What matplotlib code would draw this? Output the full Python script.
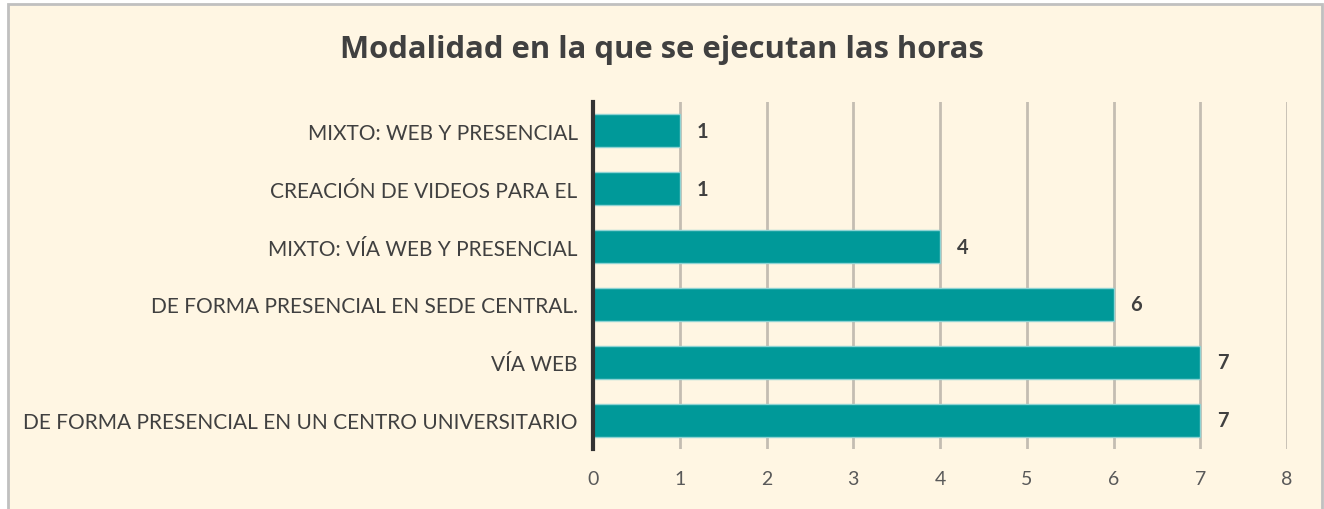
import matplotlib
matplotlib.use('Agg')
import matplotlib.pyplot as plt
from matplotlib.patches import Rectangle

categories = ['DE FORMA PRESENCIAL EN UN CENTRO UNIVERSITARIO', 'VÍA WEB',
              'DE FORMA PRESENCIAL EN SEDE CENTRAL.', 'MIXTO: VÍA WEB Y PRESENCIAL',
              'CREACIÓN DE VIDEOS PARA EL', 'MIXTO: WEB Y PRESENCIAL']
values = [7, 7, 6, 4, 1, 1]
xticks = [0, 1, 2, 3, 4, 5, 6, 7, 8]

bg = '#FFF6E3'
plt.rcParams['font.family'] = ['Lato', 'DejaVu Sans']

fig = plt.figure(figsize=(13.24, 5.10), dpi=100, facecolor='white')
# chart area with its grey frame (white margin outside it), drawn under the axes
fig.patches.append(Rectangle((8/1324, -0.01), 1314/1324, 1 - 5/510 + 0.01, transform=fig.transFigure,
                             facecolor=bg, edgecolor='#C0C0C0', linewidth=2, zorder=-5))

ax = fig.add_axes([593/1324, 1 - 450/510, 694/1324, 347/510])
ax.set_facecolor(bg)

pos = list(range(len(categories)))
ax.barh(pos, values, height=0.57, color='#009999', edgecolor='#8fd3d3', linewidth=1, zorder=3)
for p, v in zip(pos, values):
    ax.text(v + 0.19, p, str(v), va='center', ha='left', fontsize=14.5, fontweight='bold', color='#404040')

ax.set_xlim(0, 8)
ax.set_ylim(-0.5, 5.5)
ax.set_xticks(xticks)
ax.set_yticks(pos)
ax.set_yticklabels(categories, fontsize=15, color='#404040')
ax.tick_params(axis='x', labelsize=14, colors='#595959', length=0, pad=15)
ax.tick_params(axis='y', length=0, pad=11)
ax.grid(axis='x', color='#C4BDB2', linewidth=2, zorder=0)
for s in ['top', 'right', 'bottom']:
    ax.spines[s].set_visible(False)
ax.spines['left'].set_color('#333333')
ax.spines['left'].set_linewidth(3)
ax.spines['left'].set_zorder(4)

fig.text(0.5, 1 - 50/510, 'Modalidad en la que se ejecutan las horas', ha='center', va='center',
         fontsize=22.3, fontweight='bold', color='#404040', family=['Open Sans', 'DejaVu Sans'])

fig.savefig('out.png', dpi=100, facecolor='white')
